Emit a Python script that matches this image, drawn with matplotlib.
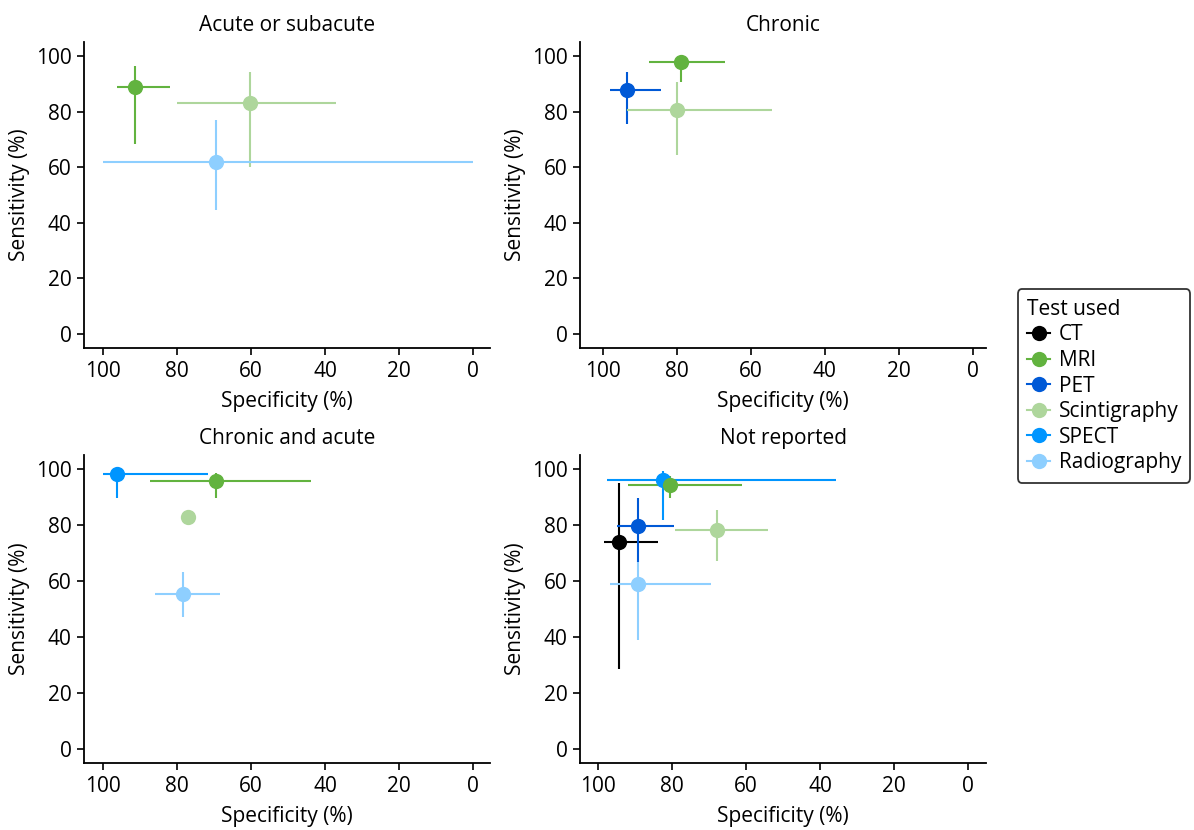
import numpy as np
import matplotlib
matplotlib.use("Agg")
import matplotlib.pyplot as plt
from matplotlib.lines import Line2D

plt.rcParams['font.family'] = ['Open Sans', 'DejaVu Sans']

tests = ["CT", "MRI", "PET", "Scintigraphy", "SPECT", "Radiography"]
colors = {"CT": "#000000", "MRI": "#62b33f", "PET": "#0059d6",
          "Scintigraphy": "#aed69c", "SPECT": "#0095ff", "Radiography": "#8ecfff"}

panel_titles = ["Acute or subacute", "Chronic", "Chronic and acute", "Not reported"]

# per panel: test, specificity, spec low, spec high, sensitivity, sens low, sens high
acute_test = ["MRI", "Scintigraphy", "Radiography"]
acute_spec = [91.2, 60.3, 69.4]
acute_spec_lo = [81.7, 36.9, 0.0]
acute_spec_hi = [96.0, 80.0, 100.0]
acute_sens = [89.0, 83.1, 61.9]
acute_sens_lo = [68.5, 59.9, 44.5]
acute_sens_hi = [96.5, 94.1, 77.0]

chronic_test = ["MRI", "PET", "Scintigraphy"]
chronic_spec = [78.7, 93.4, 79.9]
chronic_spec_lo = [66.8, 84.3, 54.1]
chronic_spec_hi = [87.5, 97.9, 93.3]
chronic_sens = [97.7, 87.9, 80.6]
chronic_sens_lo = [90.6, 75.5, 64.2]
chronic_sens_hi = [99.0, 94.1, 90.6]

both_test = ["MRI", "Scintigraphy", "SPECT", "Radiography"]
both_spec = [69.5, 77.0, 96.0, 78.2]
both_spec_lo = [43.8, 77.0, 71.5, 68.2]
both_spec_hi = [87.1, 77.0, 100.0, 85.8]
both_sens = [95.7, 82.9, 98.2, 55.3]
both_sens_lo = [89.5, 82.9, 89.6, 47.3]
both_sens_hi = [98.5, 82.9, 99.5, 63.1]

nr_test = ["CT", "Radiography", "Scintigraphy", "PET", "SPECT", "MRI"]
nr_spec = [94.3, 89.2, 68.0, 89.2, 82.6, 80.6]
nr_spec_lo = [83.9, 69.4, 54.1, 79.4, 35.7, 61.0]
nr_spec_hi = [98.4, 96.8, 79.1, 94.9, 97.7, 91.9]
nr_sens = [73.8, 59.1, 78.1, 79.5, 96.2, 94.3]
nr_sens_lo = [28.4, 38.8, 67.2, 66.8, 81.8, 89.5]
nr_sens_hi = [95.0, 67.0, 85.5, 89.5, 99.2, 97.5]

panels = [
    (acute_test, acute_spec, acute_spec_lo, acute_spec_hi, acute_sens, acute_sens_lo, acute_sens_hi),
    (chronic_test, chronic_spec, chronic_spec_lo, chronic_spec_hi, chronic_sens, chronic_sens_lo, chronic_sens_hi),
    (both_test, both_spec, both_spec_lo, both_spec_hi, both_sens, both_sens_lo, both_sens_hi),
    (nr_test, nr_spec, nr_spec_lo, nr_spec_hi, nr_sens, nr_sens_lo, nr_sens_hi),
]

fig = plt.figure(figsize=(11.94, 8.30), dpi=100)
W, H = 1194, 830
boxes = [(84, 42, 490, 348), (580, 42, 986, 348), (84, 455, 490, 763), (580, 455, 986, 763)]
xlims = [(105, -4.5), (106.1, -3.6), (105, -4.5), (104.9, -4.8)]

for (l, t, r, b), title, data, xl in zip(boxes, panel_titles, panels, xlims):
    ax = fig.add_axes([l / W, 1 - b / H, (r - l) / W, (b - t) / H])
    names, sp, sp_lo, sp_hi, se, se_lo, se_hi = data
    for i, name in enumerate(names):
        c = colors[name]
        xerr = [[sp[i] - sp_lo[i]], [sp_hi[i] - sp[i]]]
        yerr = [[se[i] - se_lo[i]], [se_hi[i] - se[i]]]
        ax.errorbar(sp[i], se[i], xerr=xerr, yerr=yerr, fmt='o', color=c,
                    ecolor=c, elinewidth=1.5, capsize=0, markersize=11,
                    markeredgewidth=0)
    ax.set_xlim(*xl)
    ax.set_ylim(-5, 105)
    ax.set_xticks([100, 80, 60, 40, 20, 0])
    ax.set_yticks([0, 20, 40, 60, 80, 100])
    ax.spines['top'].set_visible(False)
    ax.spines['right'].set_visible(False)
    ax.spines['left'].set_linewidth(1.3)
    ax.spines['bottom'].set_linewidth(1.3)
    ax.tick_params(labelsize=15, length=5, width=1.2, pad=4)
    ax.set_xlabel("Specificity (%)", fontsize=15, labelpad=7)
    ax.set_ylabel("Sensitivity (%)", fontsize=15, labelpad=4)
    ax.set_title(title, fontsize=15, pad=8)

handles = [Line2D([0], [0], color=colors[n], marker='o', markersize=11,
                  markeredgewidth=0, linewidth=1.5, label=n) for n in tests]
leg = fig.legend(handles=handles, title="Test used", loc='center left',
                 bbox_to_anchor=(1018 / W, 1 - 386 / H), fontsize=15,
                 title_fontsize=15, frameon=True, fancybox=True,
                 edgecolor='black', handlelength=1.1, handletextpad=0.4,
                 labelspacing=0.22, borderpad=0.45, borderaxespad=0)
leg._legend_box.align = "left"
leg.get_frame().set_linewidth(1.3)

fig.savefig("out.png", dpi=100)
